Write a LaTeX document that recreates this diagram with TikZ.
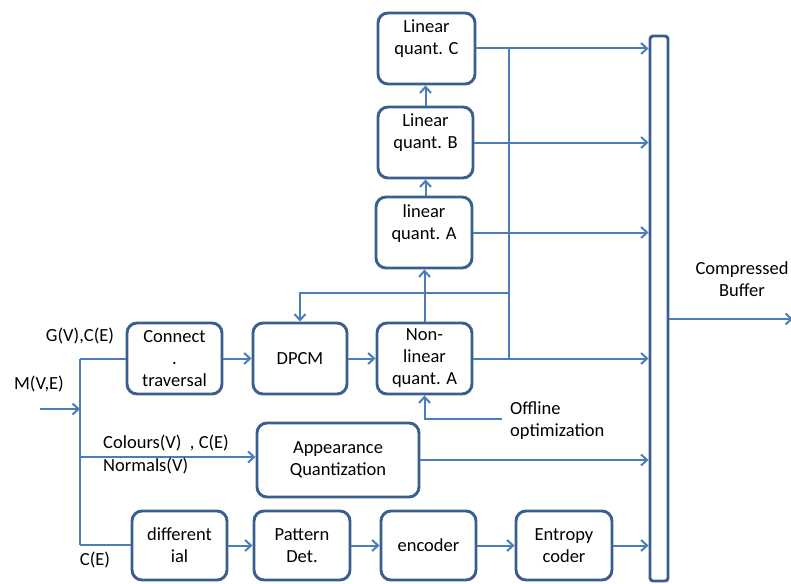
\documentclass[tikz,border=0pt]{standalone}
\usepackage{fontspec}
\setmainfont{Carlito}
\usetikzlibrary{arrows.meta}
\definecolor{boxc}{HTML}{3A5F8E}
\definecolor{linec}{HTML}{4A7EBB}
\begin{document}
\begin{tikzpicture}[x=1pt,y=-1pt,
  font=\fontsize{18.5}{22}\selectfont,
  box/.style={draw=boxc,line width=2.9pt,rounded corners=10pt,fill=white,inner sep=0pt,align=center},
  txt/.style={align=center,inner sep=0pt},
  con/.style={draw=linec,line width=2pt},
  arr/.style={con,-{Straight Barb[length=6pt,width=11pt,line width=2pt]}}]
\useasboundingbox (0,0) rectangle (791,583);
% boxes
\node[box,minimum width=97,minimum height=71] (lc) at (426.5,48.5) {};
\node[txt] (lct) at (426.5,39) {Linear\\quant. C};
\node[box,minimum width=95,minimum height=71] (lb) at (425.5,142.5) {};
\node[txt] (lbt) at (425.5,133) {Linear\\quant. B};
\node[box,minimum width=96,minimum height=71] (la) at (424,232.5) {};
\node[txt] (lat) at (424,224) {linear\\quant. A};
\node[box,minimum width=95,minimum height=71] (conn) at (174.5,358.5) {Connect\\.\\traversal};
\node[box,minimum width=94,minimum height=71] (dpcm) at (300,358.5) {DPCM};
\node[box,minimum width=95,minimum height=71] (nl) at (424.5,358.5) {Non-\\linear\\quant. A};
\node[box,minimum width=162,minimum height=74] (app) at (338,460) {Appearance\\Quantization};
\node[box,minimum width=95,minimum height=69] (diff) at (179.5,545.5) {different\\ial};
\node[box,minimum width=96,minimum height=69] (pat) at (302,545.5) {Pattern\\Det.};
\node[box,minimum width=95,minimum height=69] (enc) at (428.5,545.5) {encoder};
\node[box,minimum width=96,minimum height=69] (ent) at (564,545.5) {Entropy\\coder};
\node[box,rounded corners=3pt,minimum width=18,minimum height=545] (bar) at (659,308.5) {};
% coordinates
\coordinate (in) at (40,409);
\coordinate (jin) at (80,409);
\coordinate (jt) at (80,359);
\coordinate (jm) at (80,457);
\coordinate (jb) at (80,545);
\coordinate (vtop) at (509,48);
\coordinate (vbot) at (509,359);
\coordinate (fb) at (509,293);
\coordinate (off) at (502,419);
\coordinate (out) at (793,319);
% connectors
\draw[arr] (in) -- (jin);
\draw[con] (jt) -- (jb);
\draw[con] (jt) -- (conn.west |- jt);
\draw[arr] (jm) -- (app.west |- jm);
\draw[con] (jb) -- (diff.west |- jb);
\draw[arr] (conn.east) -- (dpcm.west);
\draw[arr] (dpcm.east) -- (nl.west);
\draw[arr] (nl.east) -- (bar.west |- nl.east);
\draw[con] (vtop) -- (vbot);
\draw[arr] (fb) -| (dpcm.north);
\draw[arr] (nl.north) -- (la.south -| nl.north);
\draw[arr] (la.north -| lb.south) -- (lb.south);
\draw[arr] (lb.north) -- (lc.south -| lb.north);
\draw[arr] (lc.east) -- (bar.west |- lc.east);
\draw[arr] (lb.east) -- (bar.west |- lb.east);
\draw[arr] (la.east) -- (bar.west |- la.east);
\draw[arr] (off) -| (nl.south);
\draw[arr] (app.east) -- (bar.west |- app.east);
\draw[arr] (diff.east) -- (pat.west);
\draw[arr] (pat.east) -- (enc.west);
\draw[arr] (enc.east) -- (ent.west);
\draw[arr] (ent.east) -- (bar.west |- ent.east);
\draw[arr] (bar.east |- out) -- (out);
% labels
\node[txt] (lm) at (39,384) {M(V,E)};
\node[txt] (lg) at (80,336) {G(V),C(E)};
\node[txt,anchor=west] (lcol) at (103,443) {Colours(V)~~, C(E)};
\node[txt,anchor=west] (lnor) at (103,466) {Normals(V)};
\node[txt] (lce) at (95,560) {C(E)};
\node[txt,align=left,anchor=west] (loff) at (510,421) {Offline\\optimization};
\node[txt] (lbuf) at (742,279) {Compressed\\Buffer};
\end{tikzpicture}
\end{document}
